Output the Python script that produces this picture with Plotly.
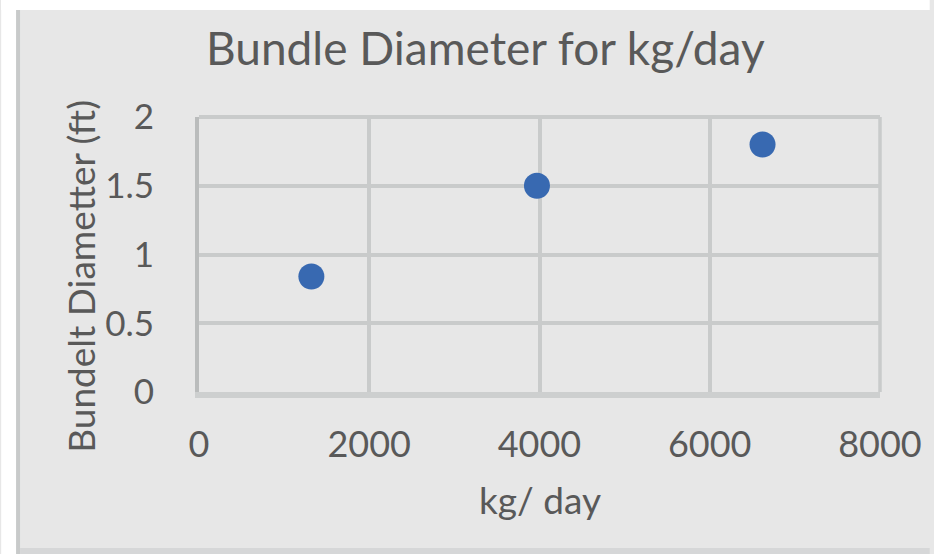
import plotly.graph_objects as go

# Data
kg_per_day = [1320, 3970, 6620]
bundle_diameter_ft = [0.84, 1.50, 1.80]
x_ticks = [0, 2000, 4000, 6000, 8000]
y_ticks = [0, 0.5, 1, 1.5, 2]
y_tick_labels = ["0", "0.5", "1", "1.5", "2"]

W, H = 934, 554
L, R, T, B = 199, 884, 117, 392  # plot area in px

def px(x):
    return (x - L) / (R - L)

def py(y):
    return (B - y) / (B - T)

FONT = "Lato"
TXT = "#595959"
GRID = "#c9cbcb"

fig = go.Figure()
fig.add_trace(go.Scatter(
    x=kg_per_day, y=bundle_diameter_ft, mode="markers",
    marker=dict(size=26, color="#3869b1"),
    showlegend=False, cliponaxis=False,
))

shapes = [
    # white outside area (left and top)
    dict(type="rect", xref="paper", yref="paper", x0=px(0), x1=px(15), y0=py(H), y1=py(0),
         fillcolor="white", line_width=0, layer="above"),
    dict(type="rect", xref="paper", yref="paper", x0=px(0), x1=px(W), y0=py(10), y1=py(0),
         fillcolor="white", line_width=0, layer="above"),
    # left border
    dict(type="rect", xref="paper", yref="paper", x0=px(15), x1=px(19), y0=py(H), y1=py(10),
         fillcolor="#c8caca", line_width=0, layer="above"),
    # bottom border
    dict(type="rect", xref="paper", yref="paper", x0=px(19), x1=px(W), y0=py(H), y1=py(548),
         fillcolor="#d6d7d8", line_width=0, layer="above"),
    # plot-area top and right edge lines (gridlines at range ends)
    dict(type="line", xref="paper", yref="paper", x0=0, x1=1, y0=1, y1=1,
         line=dict(color=GRID, width=4), layer="below"),
    dict(type="line", xref="paper", yref="paper", x0=1, x1=1, y0=0, y1=1,
         line=dict(color=GRID, width=3.5), layer="below"),
]

fig.update_layout(
    width=W, height=H,
    margin=dict(l=L, r=W - R, t=T, b=H - B, pad=0),
    paper_bgcolor="#e7e7e7", plot_bgcolor="#e7e7e7",
    font=dict(family=FONT, color=TXT),
    shapes=shapes,
    annotations=[
        dict(text="Bundle Diameter for kg/day", xref="paper", yref="paper",
             x=px(487), y=py(48), xanchor="center", yanchor="middle",
             showarrow=False, font=dict(size=46, color=TXT, family=FONT)),
        dict(text="Bundelt Diametter (ft)", xref="paper", yref="paper",
             x=px(79), y=py(276), xanchor="center", yanchor="middle", textangle=-90,
             showarrow=False, font=dict(size=37, color=TXT, family=FONT)),
        dict(text="kg/ day", xref="paper", yref="paper",
             x=px(542), y=py(500), xanchor="center", yanchor="middle",
             showarrow=False, font=dict(size=37, color=TXT, family=FONT)),
    ],
    xaxis=dict(range=[0, 8000], tickvals=x_ticks, ticktext=[str(v) for v in x_ticks],
               showgrid=True, gridcolor=GRID, gridwidth=3.5, zeroline=False,
               ticks="", ticklabelstandoff=16,
               tickfont=dict(size=36, color=TXT, family=FONT), fixedrange=True,
               showline=True, linecolor="#cdcfcf", linewidth=6),
    yaxis=dict(range=[0, 2], tickvals=y_ticks, ticktext=y_tick_labels,
               showgrid=True, gridcolor=GRID, gridwidth=3.5, zeroline=False,
               ticks="", ticklabelstandoff=34,
               tickfont=dict(size=35, color=TXT, family=FONT), fixedrange=True,
               showline=True, linecolor="#babcbc", linewidth=4),
)

fig.write_html("out.html", config={"displayModeBar": False},
               post_script="document.body.style.margin='0';document.body.style.overflow='hidden';")
